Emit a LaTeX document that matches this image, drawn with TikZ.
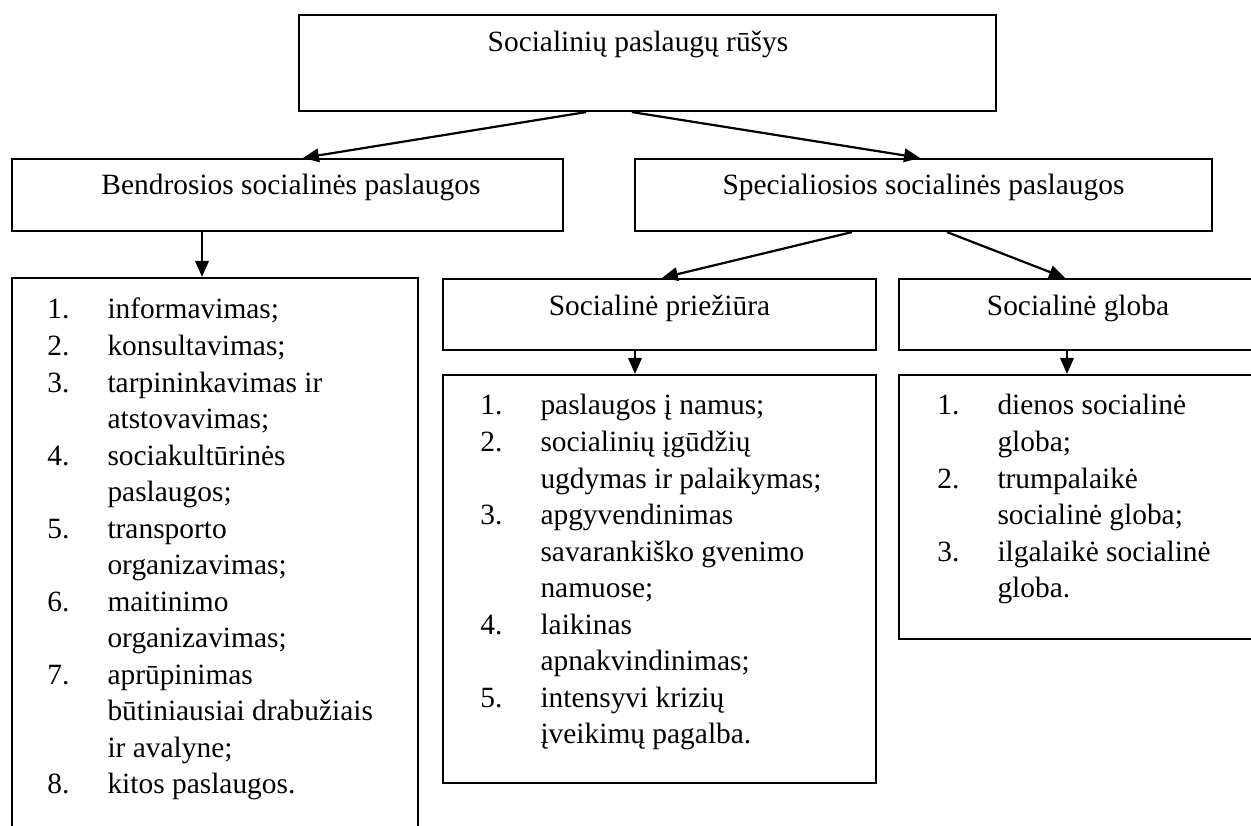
\documentclass[tikz,border=0pt]{standalone}
\usepackage{fontspec}
\setmainfont{Liberation Serif}
\usepackage{tikz}
\usetikzlibrary{arrows.meta,calc,positioning}

\newcommand{\pxl}{0.408pt}

\begin{document}
\begin{tikzpicture}[x=\pxl, y=-\pxl,
  box/.style={draw, rectangle, line width=0.9pt, inner sep=0pt},
  boxsize/.style 2 args={minimum width=#1*\pxl, minimum height=#2*\pxl},
  arr/.style={line width=0.9pt, -{Triangle[length=6.5pt,width=5.5pt]}},
  label/.style={anchor=base, inner sep=0pt, font=\fontsize{12}{14.9}\selectfont},
  list/.style={anchor=base west, inner sep=0pt, font=\fontsize{12}{14.9}\selectfont}]

\useasboundingbox (0,0) rectangle (1251,826);
\clip (0,0) rectangle (1251,826);

% Draw the boxes
\node[box, boxsize={697}{96}] (top) at (647.5,63) {};
\node[box, boxsize={551}{72}] (bendr) at (287.5,195) {};
\node[box, boxsize={577}{72}] (spec) at (923.5,195) {};
\node[box, boxsize={406}{600}] (bendrlist) at (215,578) {};
\node[box, boxsize={433}{71}] (priez) at (659.5,314.5) {};
\node[box, boxsize={433}{408}] (priezlist) at (659.5,579) {};
\node[box, boxsize={433}{71}] (globa) at (1115.5,314.5) {};
\node[box, boxsize={433}{264}] (globalist) at (1115.5,507) {};

% Box titles
\node[label] (toptxt) at (638,52) {Socialinių paslaugų rūšys};
\node[label] (bendrtxt) at (291,195) {Bendrosios socialinės paslaugos};
\node[label] (spectxt) at (923.5,195) {Specialiosios socialinės paslaugos};
\node[label] (priextxt) at (659.5,316) {Socialinė priežiūra};
\node[label] (globatxt) at (1078,316) {Socialinė globa};

% Lists of services
\node[list] (bendritems) at (47,319) {\begin{tabular}[t]{@{}p{24.5pt}@{}l@{}}
1. & informavimas;\\
2. & konsultavimas;\\
3. & tarpininkavimas ir\\
   & atstovavimas;\\
4. & sociakultūrinės\\
   & paslaugos;\\
5. & transporto\\
   & organizavimas;\\
6. & maitinimo\\
   & organizavimas;\\
7. & aprūpinimas\\
   & būtiniausiai drabužiais\\
   & ir avalyne;\\
8. & kitos paslaugos.
\end{tabular}};

\node[list] (priezitems) at (480,415) {\begin{tabular}[t]{@{}p{24.5pt}@{}l@{}}
1. & paslaugos į namus;\\
2. & socialinių įgūdžių\\
   & ugdymas ir palaikymas;\\
3. & apgyvendinimas\\
   & savarankiško gvenimo\\
   & namuose;\\
4. & laikinas\\
   & apnakvindinimas;\\
5. & intensyvi krizių\\
   & įveikimų pagalba.
\end{tabular}};

\node[list] (globaitems) at (937,415) {\begin{tabular}[t]{@{}p{24.5pt}@{}l@{}}
1. & dienos socialinė\\
   & globa;\\
2. & trumpalaikė\\
   & socialinė globa;\\
3. & ilgalaikė socialinė\\
   & globa.
\end{tabular}};

% Draw the arrows
\coordinate (b1) at ($(bendr.south)+(-85.5,0)$);
\coordinate (p1) at ($(priez.south)+(-24.5,0)$);
\coordinate (g1) at ($(globa.south)+(-48.5,0)$);
\draw[arr] ($(top.south)+(-61.5,0)$) -- ($(bendr.north)+(15.5,0)$);
\draw[arr] ($(top.south)+(-15.5,0)$) -- ($(spec.north)+(-3.5,0)$);
\draw[arr] ($(spec.south)+(-71.5,0)$) -- ($(priez.north)+(2.5,0)$);
\draw[arr] ($(spec.south)+(23.5,0)$) -- ($(globa.north)+(-50.5,0)$);
\draw[arr] (b1) -- (b1 |- bendrlist.north);
\draw[arr] (p1) -- (p1 |- priezlist.north);
\draw[arr] (g1) -- (g1 |- globalist.north);

\end{tikzpicture}
\end{document}
